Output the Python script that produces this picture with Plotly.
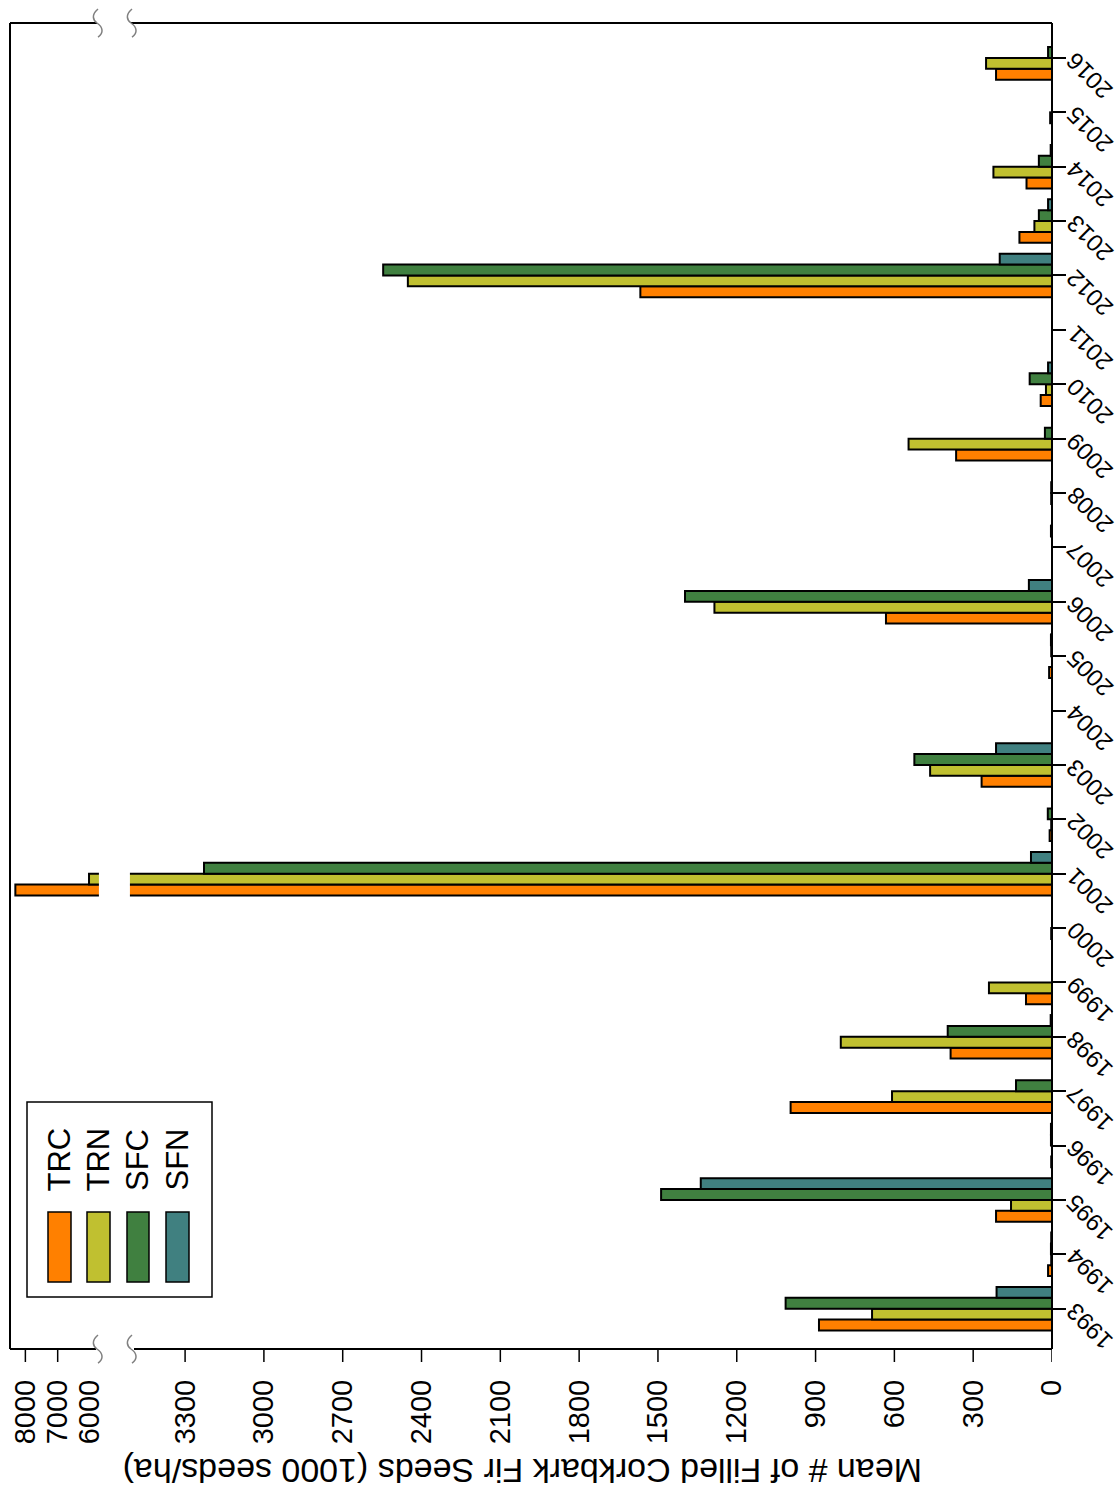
import plotly.graph_objects as go

# Mean number of filled corkbark fir seeds (1000 seeds/ha) by year and site
years = list(range(1993, 2017))
series_names = ["TRC", "TRN", "SFC", "SFN"]
trc = [887, 15, 213, 3, 995, 386, 99, 0, 8310, 9, 268, 0, 11, 632, 0, 0, 365, 43, 0, 1567, 124, 97, 0, 213]
trn = [685, 3, 156, 0, 609, 804, 240, 3, 6030, 3, 464, 0, 0, 1285, 0, 3, 546, 23, 0, 2452, 67, 223, 7, 251]
sfc = [1014, 4, 1488, 4, 137, 397, 0, 0, 3228, 16, 524, 0, 3, 1397, 0, 3, 27, 85, 0, 2546, 50, 50, 0, 15]
sfn = [211, 3, 1337, 4, 0, 5, 0, 0, 80, 0, 213, 0, 4, 88, 4, 0, 0, 15, 0, 199, 15, 5, 0, 0]
lower_ticks = [0, 300, 600, 900, 1200, 1500, 1800, 2100, 2400, 2700, 3000, 3300]
upper_ticks = [6000, 7000, 8000]

colors = ["#FF8000", "#C0C030", "#408040", "#408080"]
FONT = "Liberation Sans, Arial, sans-serif"

# Broken value axis: linear up to the break, compressed above it
BREAK_LOW = 3500
UPPER_BASE = 6000
UPPER_POS = 3662
UPPER_SCALE = 0.123
X_MAX = 3966.5
GAP = (3510, 3628)


def axis_pos(v):
    if v <= BREAK_LOW:
        return v
    return UPPER_POS + (v - UPPER_BASE) * UPPER_SCALE


# Page geometry (px) of the plotting region
W, H = 1120, 1491
L, R, T, B = 10, 68, 23, 142
PW, PH = W - L - R, H - T - B


def px(x):
    return (x - L) / PW


def py(y):
    return (H - B - y) / PH


fig = go.Figure()
for name, vals, col in zip(series_names, [trc, trn, sfc, sfn], colors):
    fig.add_trace(go.Bar(
        y=years, x=[axis_pos(v) for v in vals], orientation="h", name=name,
        customdata=vals, hovertemplate="%{y} " + name + ": %{customdata}<extra></extra>",
        marker=dict(color=col, line=dict(color="black", width=2)),
        showlegend=False,
    ))

tick_pos = [axis_pos(v) for v in lower_ticks + upper_ticks]
tick_txt = [str(v) for v in lower_ticks + upper_ticks]

shapes = []
# white gap across the bars at the axis break
shapes.append(dict(type="rect", xref="x", yref="paper", x0=GAP[0], x1=GAP[1], y0=0, y1=1,
                   fillcolor="white", line=dict(width=0), layer="above"))
# frame, interrupted at the break
line_k = dict(color="black", width=2)
for seg in [((L, T), (L, H - B)), ((L + PW, T), (L + PW, H - B)),
            ((L, T), (97, T)), ((131, T), (L + PW, T)),
            ((L, H - B), (96, H - B)), ((134, H - B), (L + PW, H - B))]:
    (x0, y0), (x1, y1) = seg
    shapes.append(dict(type="line", xref="paper", yref="paper", x0=px(x0), y0=py(y0),
                       x1=px(x1), y1=py(y1), line=line_k, layer="above"))
# value-axis tick marks (none at the first value above the break)
for v in lower_ticks + upper_ticks[1:]:
    shapes.append(dict(type="line", xref="x", yref="paper", x0=axis_pos(v), x1=axis_pos(v),
                       y0=0, y1=-13 / PH, line=dict(color="black", width=1.5)))


def brace_path(xc, yc):
    pts = [(xc + 1, yc - 14), (xc - 6, yc - 8), (xc - 4, yc - 3), (xc, yc),
           (xc + 6, yc + 4), (xc + 7, yc + 10), (xc + 1, yc + 14)]
    c = [f"{px(a):.5f},{py(b):.5f}" for a, b in pts]
    return f"M {c[0]} C {c[1]} {c[2]} {c[3]} C {c[4]} {c[5]} {c[6]}"


for xc in (97, 131):
    for yc in (T, H - B):
        shapes.append(dict(type="path", xref="paper", yref="paper", path=brace_path(xc, yc),
                           line=dict(color="#808080", width=1.5), layer="above"))

# legend frame and swatches
shapes.append(dict(type="rect", xref="paper", yref="paper", x0=px(27), x1=px(212),
                   y0=py(1297), y1=py(1102), line=dict(color="black", width=1.5),
                   fillcolor="white", layer="above"))
legend_x = [(48, 71), (87, 110), (127, 149), (166, 189)]
for (x0, x1), col in zip(legend_x, colors):
    shapes.append(dict(type="rect", xref="paper", yref="paper", x0=px(x0), x1=px(x1),
                       y0=py(1282), y1=py(1212), fillcolor=col,
                       line=dict(color="black", width=1.5), layer="above"))

annotations = []
for (x0, x1), name in zip(legend_x, series_names):
    annotations.append(dict(text=name, xref="paper", yref="paper", x=px((x0 + x1) / 2 - 1),
                            y=py(1160), textangle=-90, showarrow=False,
                            xanchor="center", yanchor="middle",
                            font=dict(family=FONT, size=31, color="black")))
for yr in years:
    annotations.append(dict(text=str(yr), xref="paper", yref="y", x=1, y=yr,
                            xshift=38, yshift=-18, textangle=-135, showarrow=False,
                            xanchor="center", yanchor="middle", borderpad=0,
                            font=dict(family=FONT, size=24, color="black")))
annotations.append(dict(text="Mean # of Filled Corkbark Fir Seeds (1000 seeds/ha)",
                        xref="paper", yref="paper", x=px(523), y=py(1471), textangle=180,
                        showarrow=False, xanchor="center", yanchor="middle",
                        font=dict(family=FONT, size=34, color="black")))

fig.update_layout(
    width=W, height=H,
    margin=dict(l=L, r=R, t=T, b=B, pad=0),
    paper_bgcolor="white", plot_bgcolor="white",
    barmode="group", bargap=0.2, bargroupgap=0,
    showlegend=False,
    font=dict(family=FONT, color="black"),
    xaxis=dict(range=[X_MAX, 0], tickmode="array", tickvals=tick_pos, ticktext=tick_txt,
               tickangle=-90, ticks="", showgrid=False, zeroline=False, showline=False,
               tickfont=dict(family=FONT, size=29, color="black"), ticklabelstandoff=24),
    yaxis=dict(range=[1992.259, 2016.643], tickmode="array", tickvals=years,
               showticklabels=False, side="right", ticks="outside", ticklen=13,
               tickwidth=1.5, tickcolor="black", showgrid=False, zeroline=False,
               showline=False),
    shapes=shapes, annotations=annotations,
)

fig.write_html("out.html")
